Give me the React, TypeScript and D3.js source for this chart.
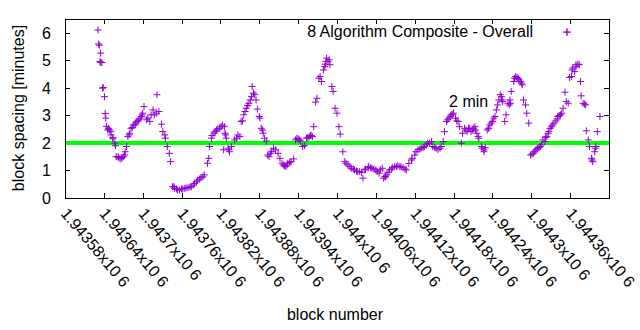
import React from "react";
import * as d3 from "d3";

const BASE_BLOCK = 1943580;
const blockOffsets = [
  51,52,53,55,54,57,58,59,61,62,63,64,67,69,71,74,78,79,83,87,90,93,95,97,100,102,106,109,113,116,119,122,
  126,131,136,141,142,145,149,151,154,155,158,161,163,166,169,174,180,185,190,195,200,205,210,215,220,222,223,226,230,234,239,243,245,
  246,247,249,252,254,257,262,267,272,276,280,284,288,289,293,295,297,300,303,306,308,311,315,319,322,325,329,332,337,341,344,349,353,356,360,364,367,
  370,373,377,380,384,387,389,392,394,396,399,402,404,406,409,412,414,417,420,423,425,429,432,437,442,447,452,458,460,464,469,474,480,485,490,492,
  494,497,501,506,512,517,522,527,531,536,540,545,550,555,560,566,571,576,581,584,586,589,593,596,600,603,607,609,612,614,
  617,621,625,629,633,636,639,643,647,649,652,656,660,664,666,670,672,675,679,681,684,687,689,693,696,700,703,706,708,711,713,716,719,723,727,730,734,738,
  742,746,749,753,758,761,765,769,772,774,775,777,779,782,784,787,789,792,796,797,800,804,805,808,810,813,815,818,820,822,826,
  55,66,71,74,77,82,85,88,92,99,104,108,111,114,118,120,128,133,138,
  168,172,177,182,187,193,198,203,208,213,227,232,236,241,
  248,253,265,270,274,278,282,286,291,301,305,313,317,335,339,343,347,358,362,
  375,379,382,401,403,408,434,440,445,450,455,463,468,472,477,482,487,
  495,499,504,509,514,519,525,535,542,548,553,558,563,568,573,579,591,595,598,605,
  619,623,627,631,634,638,644,647,654,658,662,668,674,676,686,688,694,698,701,705,721,725,729,732,736,
  741,744,747,751,755,760,763,767,783,789,794,802,814,819,
];
const spacing = [
  6.10,5.59,5.55,5.26,4.96,4.92,3.99,4.01,3.68,3.07,2.90,2.60,2.53,2.47,2.29,2.15,1.90,1.50,1.47,1.44,1.50,1.68,1.87,2.23,2.35,2.53,2.65,2.72,2.80,2.90,3.02,3.32,
  2.84,2.78,3.20,3.08,3.75,3.14,2.68,2.41,2.29,2.17,1.87,1.62,1.32,0.41,0.35,0.29,0.33,0.35,0.37,0.41,0.53,0.65,0.74,0.84,1.26,1.44,1.87,2.17,2.35,2.47,2.53,2.65,1.75,
  2.59,2.35,2.17,1.81,1.68,1.87,2.11,2.29,2.78,3.02,3.26,3.44,3.68,4.05,3.75,3.56,3.23,2.96,2.53,2.35,2.17,2.07,1.50,1.68,1.81,1.75,1.62,1.44,1.20,1.14,1.26,1.32,1.42,2.11,2.15,2.07,1.87,
  1.90,2.17,2.23,2.27,2.59,3.48,3.62,4.35,4.41,4.23,4.65,4.86,5.08,4.96,4.84,4.05,3.87,3.26,3.08,2.59,2.32,1.68,1.32,1.20,1.08,1.02,0.96,0.93,0.72,1.05,1.14,1.08,1.02,0.90,1.08,0.72,
  0.78,0.84,1.02,1.10,1.14,1.14,1.10,1.02,1.26,1.44,1.56,1.75,1.81,1.87,1.99,2.05,1.83,1.75,1.87,2.05,2.41,2.78,2.90,3.02,3.08,2.90,2.78,2.59,1.99,2.35,
  2.53,2.41,2.53,2.47,2.59,2.35,2.17,1.87,1.75,1.83,2.47,2.65,2.78,2.96,3.20,3.56,3.75,3.56,2.78,3.02,3.44,3.56,3.87,4.23,4.41,4.33,4.23,4.11,3.56,3.38,3.08,2.72,1.56,1.62,1.75,1.81,1.87,2.11,
  2.20,2.35,2.53,2.65,2.80,2.96,3.02,3.26,3.84,3.50,6.02,3.44,4.38,4.41,4.72,4.59,4.84,4.86,4.23,3.71,3.44,3.38,2.44,2.11,1.87,1.44,1.32,1.68,1.87,2.41,2.96,
  4.92,2.47,2.41,2.19,1.99,1.50,1.42,1.47,1.56,2.29,2.56,2.65,2.78,2.84,2.96,3.08,2.90,3.02,3.02,
  0.41,0.33,0.29,0.33,0.37,0.40,0.47,0.59,0.69,0.77,2.27,2.41,2.51,2.59,
  2.29,1.75,2.17,2.23,2.80,3.14,3.36,3.56,3.81,2.90,2.47,1.56,1.62,1.26,1.17,1.20,1.30,2.17,2.11,
  2.19,2.27,2.23,4.77,4.96,5.02,1.26,1.14,1.05,0.98,0.96,1.02,1.10,1.10,1.05,0.96,1.02,
  0.77,0.93,1.05,1.14,1.17,1.13,1.05,1.38,1.68,1.78,1.83,1.93,1.99,1.87,1.81,1.81,2.84,2.96,3.04,2.80,
  2.47,2.53,2.41,2.53,2.47,2.23,1.81,1.68,2.53,2.72,2.90,3.38,3.68,3.50,3.38,3.44,4.35,4.38,4.29,4.17,1.59,1.68,1.78,1.83,1.93,
  2.05,2.23,2.41,2.59,2.72,2.87,2.99,3.08,4.65,4.77,4.84,3.41,1.38,1.81,
];

const xTickValues = [1943580,1943640,1943700,1943760,1943820,1943880,1943940,1944000,1944060,1944120,1944180,1944240,1944300,1944360];
const xTickLabels = ["1.94358x10 6","1.94364x10 6","1.9437x10 6","1.94376x10 6","1.94382x10 6","1.94388x10 6","1.94394x10 6","1.944x10 6","1.94406x10 6","1.94412x10 6","1.94418x10 6","1.94424x10 6","1.9443x10 6","1.94436x10 6"];
const yTickValues = [0,1,2,3,4,5,6];
const xDomain = [1943580, 1944420];
const yDomain = [0, 6.5];
const targetSpacing = 2;
const targetLabel = "2 min";
const targetLabelPos = [1944173, 3.5];
const seriesName = "8 Algorithm Composite - Overall";

const W = 640, H = 330;
const L = 65, R = 609, T = 19, B = 198;
const FONT = "'Liberation Sans', Arial, sans-serif";
const PURPLE = "#9400d3";

function Plus({ x, y }: { x: number; y: number }) {
  const a = 3.5;
  return (
    <path d={`M${x - a},${y}H${x + a}M${x},${y - a}V${y + a}`} stroke={PURPLE} strokeWidth={1} fill="none" />
  );
}

export default function App() {
  const x = d3.scaleLinear().domain(xDomain).range([L, R]);
  const y = d3.scaleLinear().domain(yDomain).range([B, T]);
  const tick = 5;
  const pts = blockOffsets.map((o, i) => ({ b: BASE_BLOCK + o, v: spacing[i] }));
  return (
    <svg width={W} height={H} style={{ position: "absolute", left: 0, top: 0, background: "#fff" }} fontFamily={FONT} fontSize={16}>
      <rect width={W} height={H} fill="#fff" />
      {yTickValues.map((v) => (
        <g key={"y" + v}>
          <line x1={L} x2={L + tick} y1={Math.round(y(v)) + 0.5} y2={Math.round(y(v)) + 0.5} stroke="#000" />
          <line x1={R} x2={R - tick} y1={Math.round(y(v)) + 0.5} y2={Math.round(y(v)) + 0.5} stroke="#000" />
          <text x={51} y={y(v)} dy="0.36em" textAnchor="end" fill="#000">{v}</text>
        </g>
      ))}
      {xTickValues.map((v, i) => (
        <g key={"x" + v}>
          <line x1={Math.round(x(v)) + 0.5} x2={Math.round(x(v)) + 0.5} y1={B} y2={B - tick} stroke="#000" />
          <line x1={Math.round(x(v)) + 0.5} x2={Math.round(x(v)) + 0.5} y1={T} y2={T + tick} stroke="#000" />
          <text transform={`translate(${x(v) - 5},${B + 16}) rotate(50)`} fill="#000">{xTickLabels[i]}</text>
        </g>
      ))}
      <line x1={L} x2={R} y1={y(targetSpacing)} y2={y(targetSpacing)} stroke="#00ff00" strokeWidth={4} />
      {pts.map((p, i) => (
        <Plus key={i} x={x(p.b)} y={y(p.v)} />
      ))}
      <rect x={L + 0.5} y={T + 0.5} width={R - L} height={B - T} fill="none" stroke="#000" />
      <text x={533} y={37} textAnchor="end" fill="#000">{seriesName}</text>
      <Plus x={567} y={32} />
      <text x={x(targetLabelPos[0])} y={y(targetLabelPos[1])} dy="0.36em" fill="#000">{targetLabel}</text>
      <text transform={`translate(24,108) rotate(-90)`} textAnchor="middle" fill="#000">block spacing [minutes]</text>
      <text x={335} y={320} textAnchor="middle" fill="#000">block number</text>
    </svg>
  );
}
